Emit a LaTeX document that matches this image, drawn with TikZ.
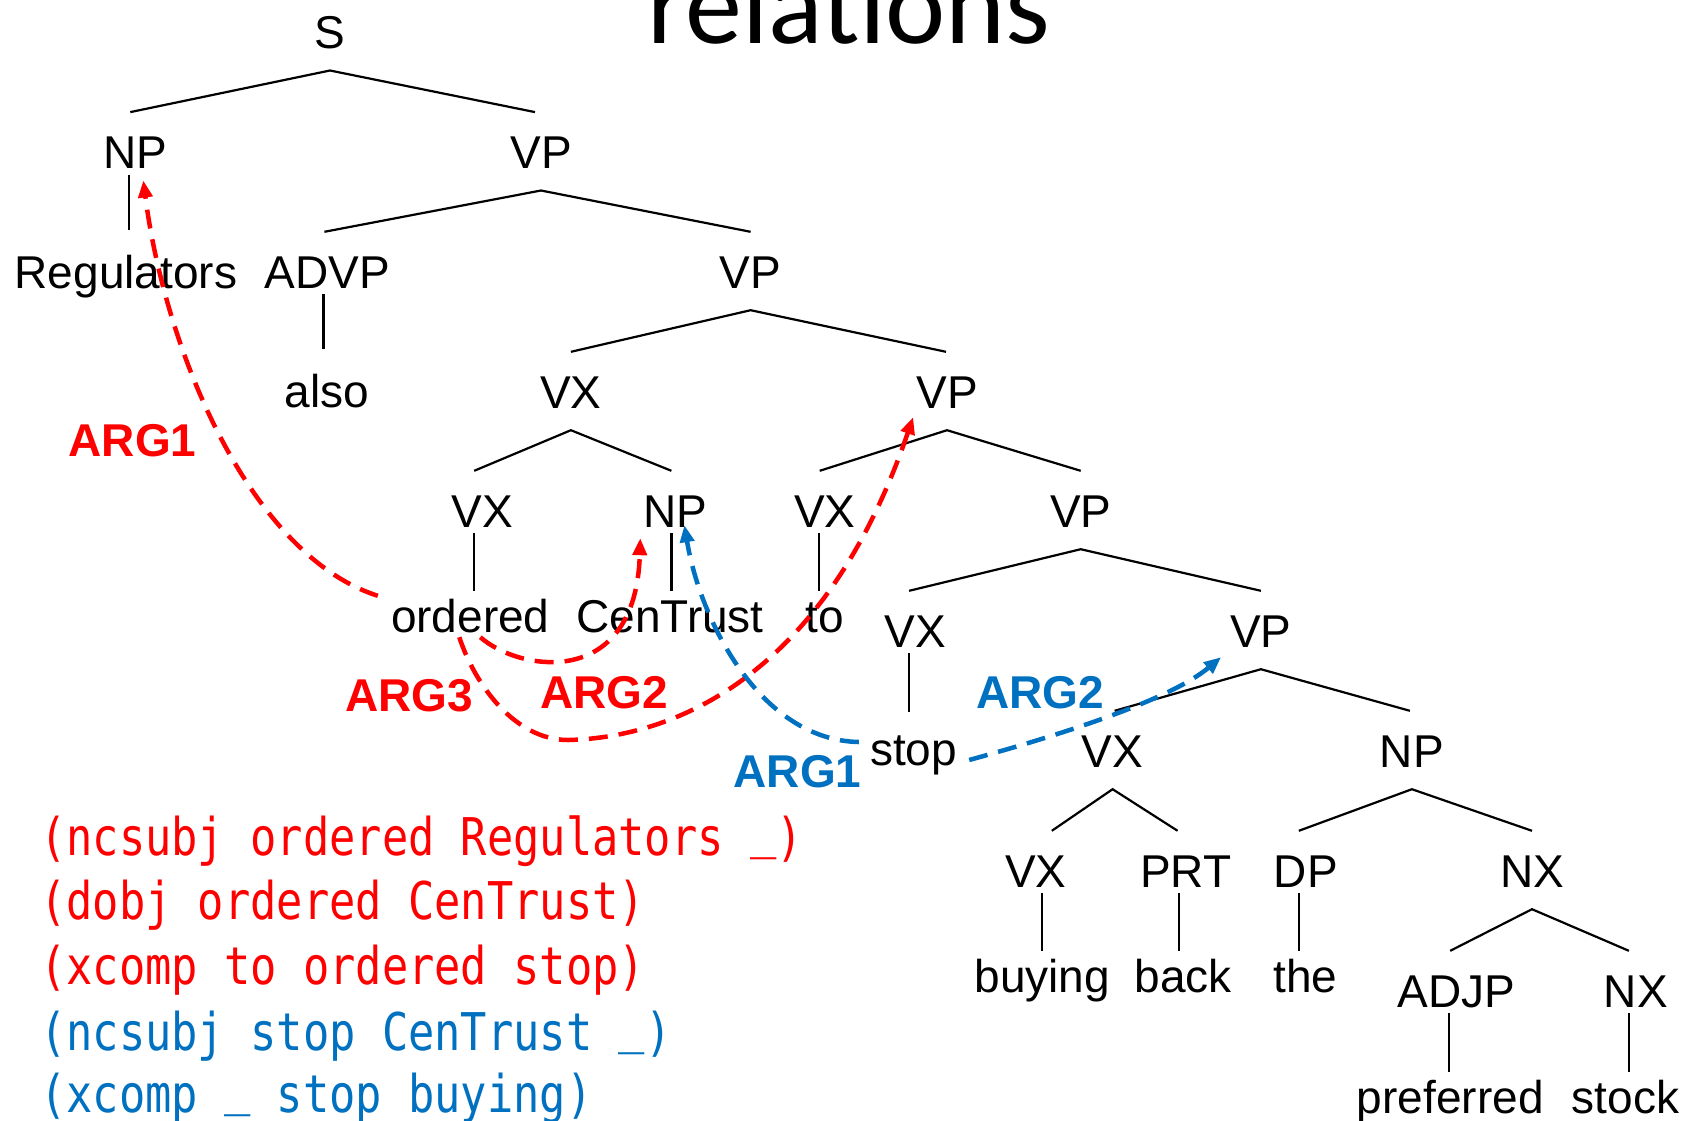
\documentclass[tikz,border=0pt]{standalone}
\usepackage{fontspec}
\setmainfont{Liberation Sans}
\newfontfamily\titlefont{Carlito}
\newfontfamily\codefont[FakeStretch=0.84]{DejaVu Sans Mono}
\usetikzlibrary{arrows.meta,calc}
\definecolor{argred}{RGB}{255,0,0}
\definecolor{argblue}{RGB}{0,112,192}
\tikzset{
  phr/.style={anchor=base, font=\fontsize{46}{46}\selectfont, text height=33pt, text depth=0pt, inner xsep=0pt, inner ysep=6pt},
  wrd/.style={phr, inner ysep=8pt},
  treeline/.style={line width=2.2pt},
  relarrow/.style={line width=4.5pt, dash pattern=on 19pt off 11pt, -{Triangle[length=17pt,width=14pt]}},
  arglab/.style={anchor=base, font=\fontsize{46}{46}\selectfont\bfseries, inner sep=0pt},
  codeline/.style={anchor=base west, font=\codefont\fontsize{52}{52}\selectfont, inner sep=0pt}
}
\newcommand\treebranch[5]{\draw[treeline] ($(#2.north)+(#4,-17)$) -- ($(#1.south)+(0,16)$) -- ($(#3.north)+(#5,-17)$);}
\newcommand\treeunary[4]{\draw[treeline] ($(#1.south)+(#3,0)$) -- ($(#1.south |- #2.north)+(#3,-#4)$);}
\newcommand\lowbar{\raisebox{8pt}{\_}}
\begin{document}
\begin{tikzpicture}[x=1pt,y=-1pt]
\useasboundingbox (0,0) rectangle (1697,1120);
\fill[white] (0,0) rectangle (1697,1120);
\clip (0,0) rectangle (1697,1120);

\node[anchor=base, font=\titlefont\fontsize{114}{114}\selectfont, inner sep=0pt] (title) at (848.7,43) {relations};

% phrase nodes
\node[phr] (s) at (330,48.3) {S};
\node[phr] (np1) at (135.3,168.3) {NP};
\node[phr] (vp1) at (541,168.3) {VP};
\node[phr] (advp) at (327.4,288) {ADVP};
\node[phr] (vp2) at (750.6,288) {VP};
\node[phr] (vx1) at (570.9,408) {VX};
\node[phr] (vp3) at (947,408) {VP};
\node[phr] (vxo) at (482.2,527) {VX};
\node[phr] (npc) at (675.4,527) {NP};
\node[phr] (vxt) at (824.7,527) {VX};
\node[phr] (vp4) at (1080.7,527) {VP};
\node[phr] (vxs) at (915.1,647) {VX};
\node[phr] (vp5) at (1260.9,647) {VP};
\node[phr] (vxb) at (1112.6,767) {VX};
\node[phr] (npb) at (1411.9,767) {NP};
\node[phr] (vxbuy) at (1035.8,887) {VX};
\node[phr] (prt) at (1185.6,887) {PRT};
\node[phr] (dp) at (1305.8,887) {DP};
\node[phr] (nx1) at (1532,887) {NX};
\node[phr] (adjp) at (1456.2,1007) {ADJP};
\node[phr] (nx2) at (1635.9,1007) {NX};

% words
\node[wrd] (regulators) at (126,288) {Regulators};
\node[wrd] (also) at (326.9,407) {also};
\node[wrd] (ordered) at (470.3,632) {ordered};
\node[wrd] (centrust) at (670,632) {CenTrust};
\node[wrd] (to) at (824.7,632) {to};
\node[wrd] (stop) at (913.5,765) {stop};
\node[wrd] (buying) at (1042.3,992) {buying};
\node[wrd] (back) at (1183,992) {back};
\node[wrd] (the) at (1305.3,992) {the};
\node[wrd] (preferred) at (1450.3,1113) {preferred};
\node[wrd] (stock) at (1625.6,1113) {stock};

% tree lines
\treebranch{s}{np1}{vp1}{-5}{-6}
\treebranch{vp1}{advp}{vp2}{-3}{0}
\treebranch{vp2}{vx1}{vp3}{0}{-1}
\treebranch{vx1}{vxo}{npc}{-8}{-4}
\treebranch{vp3}{vxt}{vp4}{-5}{0}
\treebranch{vp4}{vxs}{vp5}{-6}{0}
\treebranch{vp5}{vxb}{npb}{2}{-2}
\treebranch{vxb}{vxbuy}{prt}{16}{-8}
\treebranch{npb}{dp}{nx1}{-7}{0}
\treebranch{nx1}{adjp}{nx2}{-6}{-7}
\treeunary{np1}{regulators}{-6.5}{16.5}
\treeunary{advp}{also}{-4}{16.5}
\treeunary{vxo}{ordered}{-8}{0}
\treeunary{npc}{centrust}{-4}{0}
\treeunary{vxt}{to}{-5.5}{0}
\treeunary{vxs}{stop}{-6}{12}
\treeunary{vxbuy}{buying}{6}{0}
\treeunary{prt}{back}{-7}{0}
\treeunary{dp}{the}{-7}{0}
\treeunary{adjp}{preferred}{-7}{0}
\treeunary{nx2}{stock}{-7}{0}

% argument labels
\node[arglab, text=argred] (lr1) at (132.5,456.7) {ARG1};
\node[arglab, text=argred] (lr3) at (409,711.7) {ARG3};
\node[arglab, text=argred] (lr2) at (604,708.3) {ARG2};
\node[arglab, text=argblue] (lb2) at (1040,708.3) {ARG2};
\node[arglab, text=argblue] (lb1) at (797.5,787) {ARG1};

% relation arrows
\coordinate (a3mid) at (568,740);
\draw[relarrow, argred] ([xshift=-13pt,yshift=-5pt]ordered.north west) .. controls (250,555) and (165,350) .. ([xshift=8pt,yshift=-6pt]np1.south);
\draw[relarrow, argred] ([xshift=10pt,yshift=3pt]ordered.south) .. controls (520,672) and (636,690) .. ([xshift=-3pt,yshift=-5pt]npc.south west);
\draw[relarrow, argred] ([xshift=-11pt,yshift=3pt]ordered.south) .. controls (475,685) and (515,740) .. (a3mid) .. controls (660,738) and (820,690) .. ([xshift=-3pt,yshift=-3pt]vp3.south west);
\draw[relarrow, argblue] ([xshift=-11pt,yshift=6.5pt]stop.west) .. controls (760,740) and (700,620) .. ([xshift=9pt,yshift=8pt]npc.south);
\draw[relarrow, argblue] ([xshift=12pt,yshift=-11.5pt]stop.east) .. controls (1060,735) and (1170,700) .. ([xshift=-9pt,yshift=-4pt]vp5.south west);

% dependency lines
\node[codeline, text=argred] (c1) at (40,855) {(ncsubj ordered Regulators \lowbar)};
\node[codeline, text=argred] (c2) at (40,919) {(dobj ordered CenTrust)};
\node[codeline, text=argred] (c3) at (40,984) {(xcomp to ordered stop)};
\node[codeline, text=argblue] (c4) at (40,1050) {(ncsubj stop CenTrust \lowbar)};
\node[codeline, text=argblue] (c5) at (40,1112) {(xcomp \lowbar{} stop buying)};
\end{tikzpicture}
\end{document}
